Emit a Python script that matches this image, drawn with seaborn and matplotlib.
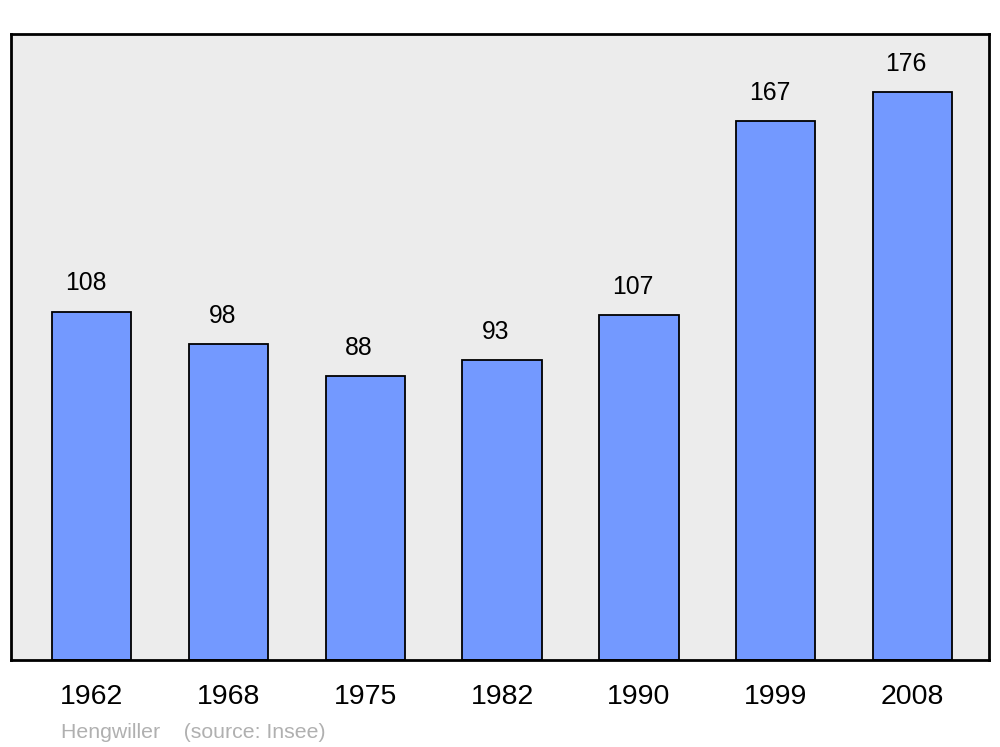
import matplotlib
matplotlib.use('Agg')
import matplotlib.pyplot as plt
import seaborn as sb
import pandas as pd

# Population data
years = ['1962', '1968', '1975', '1982', '1990', '1999', '2008']
population = [108, 98, 88, 93, 107, 167, 176]
commune = 'Hengwiller'
source = '(source: Insee)'

sb.set_style('white')
plt.rcParams['font.family'] = ['Liberation Sans', 'DejaVu Sans']
plt.rcParams['text.color'] = 'black'
plt.rcParams['xtick.color'] = 'black'

df = pd.DataFrame({'year': years, 'pop': population})

fig = plt.figure(figsize=(10, 7.47), dpi=100)
ax = fig.add_axes([0.011, 1 - 660 / 747, 0.978, 626 / 747])
ax.set_facecolor('#ececec')

sb.barplot(data=df, x='year', y='pop', color='#7399ff', saturation=1,
           edgecolor='black', linewidth=1.3, width=0.58, ax=ax)

# Value labels above bars
for i, v in enumerate(population):
    ax.text(i - 0.045, v + 5, str(v), ha='center', va='bottom', fontsize=17.8)

ax.set_xlim(-0.59, 6.56)
ax.set_ylim(0, 194)
ax.set_yticks([])
ax.set_xlabel('')
ax.set_ylabel('')
ax.tick_params(axis='x', length=0, labelsize=20.5, pad=17, labelcolor='black')
for s in ax.spines.values():
    s.set_linewidth(2)
    s.set_color('black')

fig.text(0.061, 1 - 738 / 747, commune + '    ' + source, color='#b0b0b0',
         fontsize=15.3, va='baseline')

fig.savefig('out.png', dpi=100)
